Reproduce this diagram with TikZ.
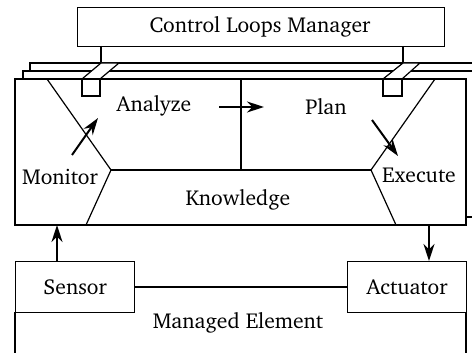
\documentclass[tikz,border=0pt]{standalone}
\usepackage[T1]{fontenc}
\usepackage{charter}
\usetikzlibrary{arrows.meta}
\tikzset{
  ln/.style={draw=black, line width=0.6pt},
  layer/.style={draw=black, fill=white, line width=0.6pt},
  arr/.style={draw=black, line width=1pt, -{Stealth[length=8.5pt,width=5.5pt]}},
  lbl/.style={font=\fontsize{10.8}{13}\selectfont, inner sep=0pt},
}
\begin{document}
\begin{tikzpicture}[x=0.5pt, y=-0.5pt]
\useasboundingbox (0,0) rectangle (472,353);
\clip (0,0) rectangle (472,353);
% manager
\node[layer, minimum width=183.5pt, minimum height=19.5pt, anchor=north west, inner sep=0pt] (mgr) at (77,7) {};
\node[lbl] (mgrt) at (260,27) {Control Loops Manager};
% stacked layers
\draw[layer] (30,63) rectangle (481,209);
\draw[layer] (23,71) rectangle (474,217);
\draw[layer] (15,79) rectangle (466,225);
% connectors from manager
\coordinate (c1) at (101,63);
\coordinate (c2) at (403,63);
\draw[ln] (101,46) -- (c1);
\draw[ln] (403,46) -- (c2);
\draw[ln, fill=white] (82,79) -- (101,63) -- (119,63) -- (100,79) -- cycle;
\draw[ln, fill=white] (82,79) rectangle (100,96);
\draw[ln, fill=white] (383,79) -- (403,63) -- (420,63) -- (402,79) -- cycle;
\draw[ln, fill=white] (383,79) rectangle (402,96);
% MAPE-K lines
\coordinate (kl) at (111,170);
\coordinate (kr) at (371,170);
\draw[ln] (47,79) -- (kl) -- (86,225);
\draw[ln] (435,79) -- (kr) -- (396,225);
\draw[ln] (kl) -- (kr);
\draw[ln] (241,79) -- (241,170);
% labels
\node[lbl] (an) at (154,106) {Analyze};
\node[lbl] (pl) at (326,107) {Plan};
\node[lbl] (mo) at (60,177) {Monitor};
\node[lbl] (ex) at (419,175) {Execute};
\node[lbl] (kn) at (238,200) {Knowledge};
% internal arrows
\coordinate (a1) at (219,107);
\coordinate (a2) at (264,107);
\draw[arr] (a1) -- (a2);
\coordinate (m1) at (72,155);
\coordinate (m2) at (98,118);
\draw[arr] (m1) -- (m2);
\coordinate (e1) at (372,120);
\coordinate (e2) at (398,156);
\draw[arr] (e1) -- (e2);
% managed element
\draw[ln] (15,312) -- (15,360);
\draw[ln] (466,312) -- (466,360);
\node[layer, anchor=north west, minimum width=59.5pt, minimum height=25.5pt, inner sep=0pt] (sen) at (15,261) {};
\node[lbl] at (sen.center) {Sensor};
\node[layer, anchor=north west, minimum width=59.5pt, minimum height=25.5pt, inner sep=0pt] (act) at (347,261) {};
\node[lbl] at (act.center) {Actuator};
\draw[ln] (sen.east) -- (act.west);
\node[lbl] (me) at (238,323) {Managed Element};
\coordinate (mb1) at (57,225);
\coordinate (mb2) at (429,225);
\draw[arr] (sen.north -| mb1) -- (mb1);
\draw[arr] (mb2) -- (act.north -| mb2);
\end{tikzpicture}
\end{document}
